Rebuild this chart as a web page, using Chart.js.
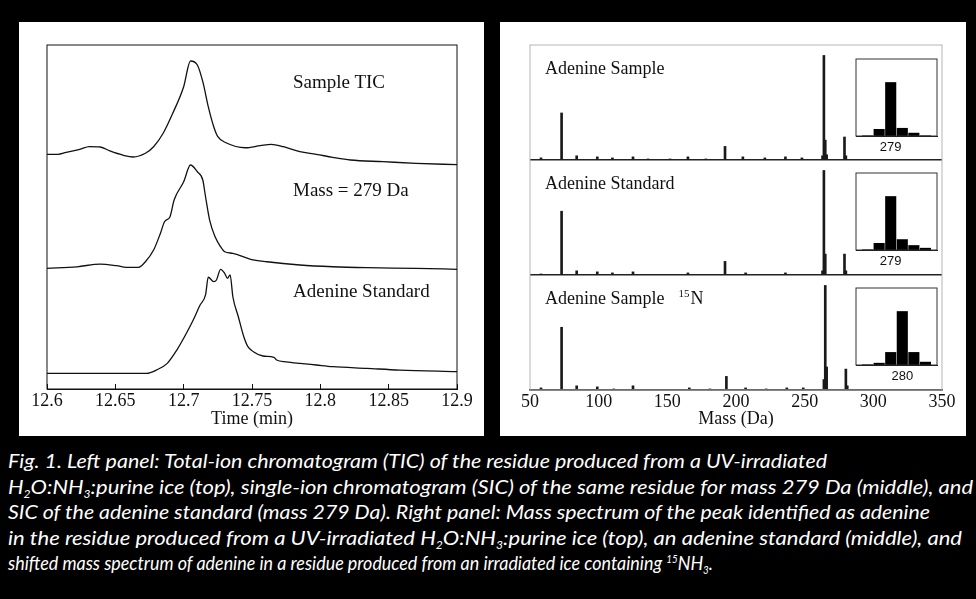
<!DOCTYPE html>
<html>
<head>
<meta charset="utf-8">
<script src="https://cdn.jsdelivr.net/npm/chart.js@4.4.1/dist/chart.umd.min.js"></script>
<style>
  body { margin: 0; background: #000; width: 976px; height: 599px; overflow: hidden; position: relative;
         font-family: "Liberation Serif", "Times New Roman", serif; }
  .panel { position: absolute; background: #fff; }
  .panel canvas { position: absolute; left: 0; top: 0; }
  .inset { position: absolute; }
  .lbl { position: absolute; font-size: 19px; line-height: 1; color: #111; white-space: nowrap; }
  .lbl.r { font-size: 18px; }
  .lbl sup { font-size: 11px; vertical-align: 7px; margin-left: 14px; margin-right: 1px; }
  #caption { position: absolute; left: 8px; top: 448px; color: #fff; font-family: Lato, "Open Sans", sans-serif;
             font-style: italic; font-size: 20px; }
  #caption div { line-height: 25.5px; white-space: nowrap; transform-origin: 0 50%; width: max-content; }
  #caption sub { font-size: 11px; vertical-align: -4px; line-height: 0; }
  #caption sup { font-size: 11px; vertical-align: 7px; line-height: 0; }
</style>
</head>
<body>
<div class="panel" style="left:19px;top:22px;width:465px;height:414px"><canvas id="chrom" width="465" height="414"></canvas></div>
<div class="panel" style="left:500px;top:22px;width:466px;height:414px"><canvas id="spec" width="466" height="414"></canvas></div>
<canvas class="inset" id="inset1" width="83" height="100" style="left:855px;top:58px"></canvas>
<canvas class="inset" id="inset2" width="83" height="100" style="left:855px;top:172px"></canvas>
<canvas class="inset" id="inset3" width="83" height="100" style="left:855px;top:287px"></canvas>

<div class="lbl" style="left:293px;top:72px">Sample TIC</div>
<div class="lbl" style="left:293px;top:180px">Mass = 279 Da</div>
<div class="lbl" style="left:293px;top:281px">Adenine Standard</div>
<div class="lbl r" style="left:545px;top:59px">Adenine Sample</div>
<div class="lbl r" style="left:545px;top:174px">Adenine Standard</div>
<div class="lbl r" style="left:545px;top:288px">Adenine Sample<sup>15</sup>N</div>

<div id="caption">
  <div>Fig. 1. Left panel: Total-ion chromatogram (TIC) of the residue produced from a UV-irradiated</div>
  <div>H<sub>2</sub>O:NH<sub>3</sub>:purine ice (top), single-ion chromatogram (SIC) of the same residue for mass 279 Da (middle), and</div>
  <div>SIC of the adenine standard (mass 279 Da). Right panel: Mass spectrum of the peak identified as adenine</div>
  <div>in the residue produced from a UV-irradiated H<sub>2</sub>O:NH<sub>3</sub>:purine ice (top), an adenine standard (middle), and</div>
  <div>shifted mass spectrum of adenine in a residue produced from an irradiated ice containing <sup>15</sup>NH<sub>3</sub>.</div>
</div>

<script>
// left panel: chromatograms, relative intensity (peak = 100)
const ticTime = [12.6, 12.608, 12.614, 12.624, 12.631, 12.639, 12.646, 12.656, 12.663, 12.672, 12.678, 12.685, 12.692, 12.700, 12.705, 12.710, 12.714, 12.718, 12.722, 12.725, 12.731, 12.745, 12.756, 12.764, 12.773, 12.785, 12.797, 12.809, 12.822, 12.846, 12.870, 12.9];
const ticValue = [10.3, 10.3, 12.2, 15.1, 17.6, 17.3, 13.5, 9.3, 7.7, 11.3, 17.6, 30.5, 49.7, 75.3, 100, 96.2, 80.1, 56.1, 36.8, 27.2, 21.4, 16.6, 18.6, 19.9, 17.6, 12.8, 10.3, 7.4, 4.8, 3.2, 1.6, 0.3];

const sicTime = [12.6, 12.622, 12.639, 12.651, 12.658, 12.667, 12.672, 12.678, 12.683, 12.686, 12.690, 12.693, 12.700, 12.705, 12.710, 12.714, 12.716, 12.719, 12.723, 12.727, 12.730, 12.736, 12.749, 12.761, 12.785, 12.809, 12.834, 12.870, 12.9];
const sicValue = [1.6, 3.1, 5.7, 4.1, 2.6, 2.6, 7.9, 19, 35, 46, 50.8, 66.7, 84, 100, 93.6, 85.7, 69.8, 47.6, 31.7, 22.2, 17.4, 15.9, 10.2, 7.9, 4.8, 3.1, 2.2, 1.6, 0.7];

const stdTime = [12.6, 12.639, 12.673, 12.680, 12.688, 12.695, 12.702, 12.707, 12.712, 12.716, 12.718, 12.722, 12.724, 12.727, 12.730, 12.732, 12.734, 12.736, 12.740, 12.744, 12.747, 12.751, 12.758, 12.766, 12.768, 12.775, 12.785, 12.797, 12.809, 12.834, 12.858, 12.9];
const stdValue = [0.7, 0.7, 0.7, 3.8, 10.2, 22.9, 38.9, 51.6, 65.9, 75.5, 92.4, 88.2, 89.8, 100, 96.2, 91.4, 94.6, 73.8, 54.7, 35.6, 26.1, 21.3, 17.2, 16, 13.4, 11.7, 10.2, 8.6, 7, 5.4, 3.8, 2.2];

const timeTicks = [12.6, 12.65, 12.7, 12.75, 12.8, 12.85, 12.9];

// right panel: mass spectra, relative intensity (base peak = 100)
const sampleMass = [58, 73, 84, 99, 110, 125, 136, 152, 165, 178, 192, 205, 221, 236, 248, 263, 264, 265, 266, 279, 280];
const sampleInt  = [2, 45, 4, 3, 2, 3, 1, 1, 3, 1, 13, 3, 2, 3, 2, 4, 100, 19, 5, 22, 4];
const standardMass = [58, 73, 84, 99, 110, 125, 165, 192, 207, 236, 263, 264, 265, 279, 280];
const standardInt  = [1, 61, 4, 3, 2, 3, 2, 13, 2, 2, 4, 100, 20, 20, 4];
const n15Mass = [58, 73, 84, 99, 111, 125, 166, 181, 193, 207, 222, 237, 249, 264, 265, 266, 280, 281];
const n15Int  = [2, 60, 4, 3, 1, 4, 2, 1, 13, 2, 1, 2, 2, 10, 100, 22, 20, 4];
const massTicks = [50, 100, 150, 200, 250, 300, 350];

// insets: molecular-ion region
const sampleIsoMass = [277, 278, 279, 280, 281, 282];
const sampleIsoInt  = [1, 13, 100, 15, 6, 1];
const standardIsoMass = [277, 278, 279, 280, 281, 282];
const standardIsoInt  = [1, 13, 100, 20, 9, 4];
const n15IsoMass = [277, 278, 279, 280, 281, 282];
const n15IsoInt  = [1, 4, 24, 100, 24, 6];
const insetLabels = [279, 279, 280];

Chart.defaults.font.family = '"Liberation Serif", "Times New Roman", serif';
Chart.defaults.color = '#111';

const framePlugin = {
  id: 'frame',
  afterDatasetsDraw(chart, args, opts) {
    if (!opts.color) return;
    const { ctx, chartArea: a } = chart;
    ctx.save();
    ctx.strokeStyle = opts.color;
    ctx.lineWidth = opts.width || 1;
    ctx.strokeRect(a.left, a.top, a.right - a.left, a.bottom - a.top);
    ctx.restore();
  }
};

const pts = (xs, ys) => xs.map((x, i) => ({ x: x, y: ys[i] }));

function trace(xs, ys, axis) {
  return {
    data: pts(xs, ys), yAxisID: axis,
    borderColor: '#111', borderWidth: 1.3, pointRadius: 0,
    cubicInterpolationMode: 'monotone', clip: false
  };
}

function hiddenY(min, max) {
  return { type: 'linear', display: false, min: min, max: max };
}

new Chart(document.getElementById('chrom'), {
  type: 'line',
  data: {
    datasets: [
      trace(ticTime, ticValue, 'yTic'),
      trace(sicTime, sicValue, 'ySic'),
      trace(stdTime, stdValue, 'yStd')
    ]
  },
  options: {
    responsive: false, animation: false,
    layout: { padding: { left: 28, top: 23, right: 27, bottom: 0 } },
    plugins: { legend: { display: false }, tooltip: { enabled: false }, frame: { color: '#111', width: 1 } },
    scales: {
      x: {
        type: 'linear', min: 12.6, max: 12.9,
        afterBuildTicks: s => { s.ticks = timeTicks.map(v => ({ value: v })); },
        afterFit: s => { s.height = 47; },
        ticks: { font: { size: 18 }, padding: 6, maxRotation: 0, callback: v => String(Math.round(v * 100) / 100) },
        grid: { drawOnChartArea: false, tickLength: -5, color: '#111' },
        border: { color: '#111' },
        title: { display: true, text: 'Time (min)', font: { size: 18 }, padding: { top: 0, bottom: 6 } }
      },
      yTic: hiddenY(-215.4, 115.4),
      ySic: hiddenY(-113.3, 214.3),
      yStd: hiddenY(-14.3, 314.2)
    }
  },
  plugins: [framePlugin]
});

function spectrum(xs, ys, axis) {
  return {
    data: pts(xs, ys), yAxisID: axis,
    backgroundColor: '#1a1a1a', barThickness: 2, grouped: false
  };
}

function bandAxis() {
  return {
    type: 'linear', position: 'left', stack: 'spec', stackWeight: 1, offset: false,
    min: 0, max: 110,
    ticks: { display: false, stepSize: 110 },
    grid: { drawTicks: false, color: c => c.tick.value === 0 ? '#222' : 'rgba(0,0,0,0)', lineWidth: 1.5 },
    border: { display: false },
    afterFit: s => { s.width = 0; }
  };
}

new Chart(document.getElementById('spec'), {
  type: 'bar',
  data: {
    datasets: [
      spectrum(n15Mass, n15Int, 'yN15'),
      spectrum(standardMass, standardInt, 'yStd'),
      spectrum(sampleMass, sampleInt, 'ySample')
    ]
  },
  options: {
    responsive: false, animation: false,
    layout: { padding: { left: 30, top: 23, right: 24, bottom: 0 } },
    plugins: { legend: { display: false }, tooltip: { enabled: false }, frame: { color: '#b5b5b5', width: 1 } },
    scales: {
      x: {
        type: 'linear', min: 50, max: 350, offset: false,
        afterBuildTicks: s => { s.ticks = massTicks.map(v => ({ value: v })); },
        afterFit: s => { s.height = 46; },
        ticks: { font: { size: 18 }, padding: 1, maxRotation: 0 },
        grid: { display: false, drawTicks: false },
        border: { color: '#222', width: 1.5 },
        title: { display: true, text: 'Mass (Da)', font: { size: 18 }, padding: { top: 0, bottom: 6 } }
      },
      yN15: bandAxis(),
      yStd: bandAxis(),
      ySample: bandAxis()
    }
  },
  plugins: [framePlugin]
});

function makeInset(id, xs, ys, label) {
  new Chart(document.getElementById(id), {
    type: 'bar',
    data: {
      datasets: [{
        data: pts(xs, ys), backgroundColor: '#000',
        barPercentage: 0.96, categoryPercentage: 1
      }]
    },
    options: {
      responsive: false, animation: false,
      layout: { padding: { left: 1, top: 1, right: 1, bottom: 0 } },
      plugins: { legend: { display: false }, tooltip: { enabled: false }, frame: { color: '#333', width: 1 } },
      scales: {
        x: {
          type: 'linear', min: 276, max: 283, offset: false,
          afterBuildTicks: s => { s.ticks = [{ value: label }]; },
          afterFit: s => { s.height = 22; },
          ticks: { font: { family: '"Liberation Sans", Arial, sans-serif', size: 13 }, padding: 4, maxRotation: 0 },
          grid: { display: false, drawTicks: false },
          border: { color: '#111' }
        },
        y: { display: false, min: 0, max: 143 }
      }
    },
    plugins: [framePlugin]
  });
}

makeInset('inset1', sampleIsoMass, sampleIsoInt, insetLabels[0]);
makeInset('inset2', standardIsoMass, standardIsoInt, insetLabels[1]);
makeInset('inset3', n15IsoMass, n15IsoInt, insetLabels[2]);

// squeeze each caption line to the condensed width it has in the original
const capWidths = [819, 965, 922, 954, 705];
document.querySelectorAll('#caption div').forEach((d, i) => {
  d.style.transform = 'scaleX(' + (capWidths[i] / d.getBoundingClientRect().width) + ')';
});
</script>
</body>
</html>
